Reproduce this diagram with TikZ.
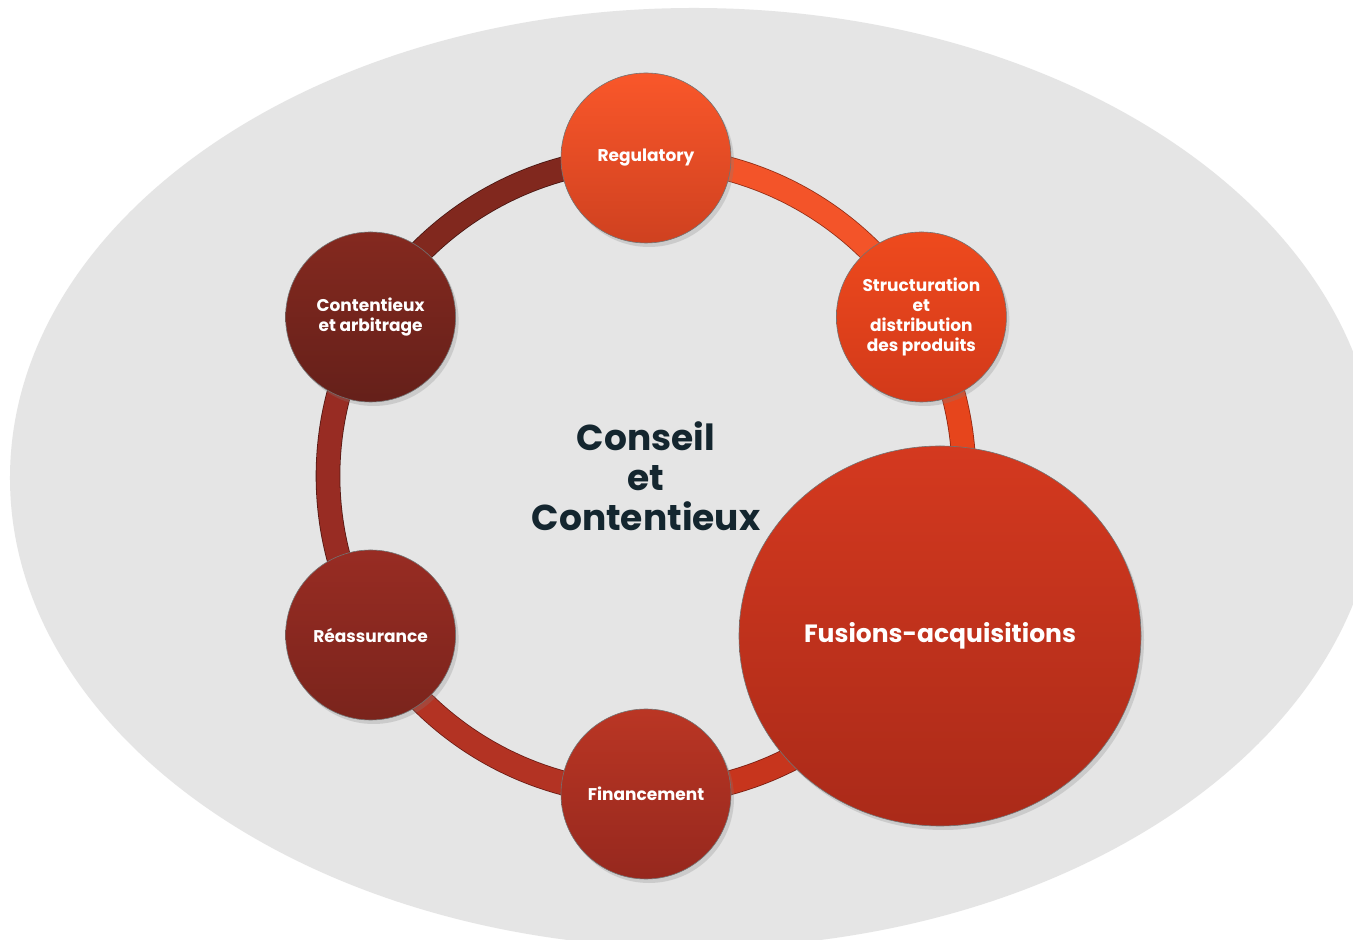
\documentclass[tikz,border=0pt]{standalone}
\usepackage{fontspec}
\setmainfont{Poppins}
\usepackage{tikz}
\usetikzlibrary{shapes.geometric}
\usetikzlibrary{shadows}
\pgfdeclarelayer{back}
\pgfsetlayers{back,main}
\definecolor{backgray}{HTML}{E5E5E5}
\definecolor{titleblue}{HTML}{14262F}
\definecolor{regtop}{HTML}{F9572A}
\definecolor{regbot}{HTML}{CF4120}
\definecolor{strtop}{HTML}{EE4A1D}
\definecolor{strbot}{HTML}{D2391A}
\definecolor{fustop}{HTML}{D4391F}
\definecolor{fusbot}{HTML}{AA2A19}
\definecolor{fintop}{HTML}{BA3624}
\definecolor{finbot}{HTML}{96281E}
\definecolor{reatop}{HTML}{982C23}
\definecolor{reabot}{HTML}{7A241C}
\definecolor{contop}{HTML}{84291F}
\definecolor{conbot}{HTML}{65201A}
\tikzstyle{bubble}=[circle, minimum size=85pt, inner sep=0pt, align=center, text=white, draw=black!55, line width=0.3pt, font=\bfseries\fontsize{8.5}{10}\selectfont, drop shadow={shadow xshift=1.5pt, shadow yshift=-2pt, opacity=0.25}]
\tikzstyle{bigbubble}=[bubble, ellipse, minimum width=201pt, minimum height=190pt, font=\bfseries\fontsize{12.5}{15}\selectfont]
\tikzstyle{ringseg}=[line width=0.4pt, double distance=11.5pt]

\begin{document}
\begin{tikzpicture}[x=0.5pt, y=0.5pt]
        \clip (-646, -464) rectangle (707, 476);
        \begin{pgfonlayer}{back}
            \fill[white] (-646, -464) rectangle (707, 476);
            \fill[backgray] (48, -2) ellipse (684 and 470);
        \end{pgfonlayer}
        \node[bubble, top color=regtop, bottom color=regbot] (regulatory) at (90:318) {Regulatory};
        \node[bubble, top color=strtop, bottom color=strbot] (structuration) at (30:318) {Structuration\\et\\distribution\\des produits};
        \node[bubble, top color=contop, bottom color=conbot] (contentieux) at (150:318) {Contentieux\\et arbitrage};
        \node[bubble, top color=reatop, bottom color=reabot] (reassurance) at (210:318) {Réassurance};
        \node[bubble, top color=fintop, bottom color=finbot] (financement) at (270:318) {Financement};
        \node[bigbubble, top color=fustop, bottom color=fusbot] (fusions) at (294, -160) {Fusions-acquisitions};
        \node[text=titleblue, align=center, font=\bfseries\fontsize{18}{20}\selectfont] (title) at (0, 0) {Conseil\\et\\Contentieux};
        \begin{pgfonlayer}{back}
            \draw[ringseg, draw=regbot!70!black, double=regtop!85!regbot] (regulatory.center) arc[start angle=90, end angle=30, radius=318];
            \draw[ringseg, draw=strbot!70!black, double=strtop!70!strbot] (structuration.center) arc[start angle=30, end angle=-30, radius=318];
            \draw[ringseg, draw=fusbot!70!black, double=fustop!70!fusbot] (financement.center) arc[start angle=270, end angle=330, radius=318];
            \draw[ringseg, draw=finbot!70!black, double=fintop!80!finbot] (financement.center) arc[start angle=270, end angle=210, radius=318];
            \draw[ringseg, draw=reabot!70!black, double=reatop] (reassurance.center) arc[start angle=210, end angle=150, radius=318];
            \draw[ringseg, draw=conbot!70!black, double=contop!90!conbot] (contentieux.center) arc[start angle=150, end angle=90, radius=318];
        \end{pgfonlayer}
    \end{tikzpicture}
\end{document}
